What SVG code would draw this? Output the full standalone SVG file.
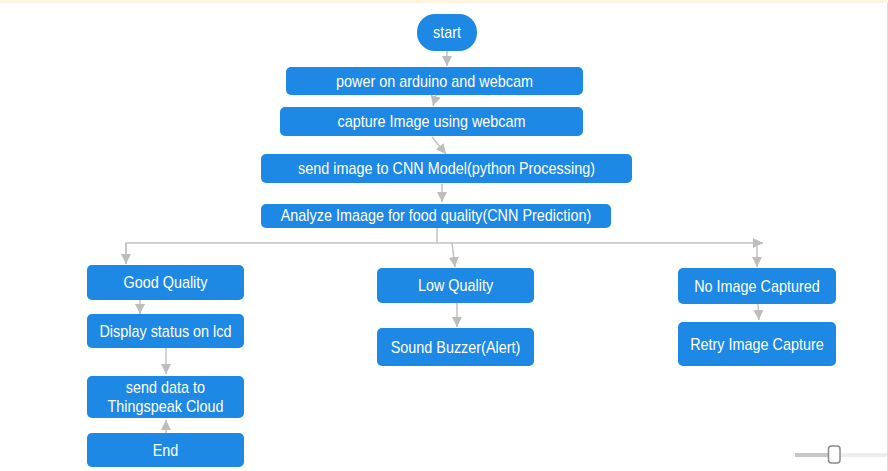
<svg xmlns="http://www.w3.org/2000/svg" width="888" height="471" viewBox="0 0 888 471">
<style>
.n rect{fill:#1e88e5}
.n text{font-family:"Liberation Sans",Arial,sans-serif;font-size:16px;fill:#ffffff;text-anchor:middle;transform-box:fill-box;transform-origin:center;transform:scaleX(0.9)}
.c line,.c polyline{stroke:#c2c2c2;stroke-width:1.5;fill:none}
</style>
<defs>
<marker id="arr" viewBox="0 0 10 10" refX="10" refY="5" markerWidth="10" markerHeight="10" markerUnits="userSpaceOnUse" orient="auto">
<path d="M0,0 L10,5 L0,10 z" fill="#bdbdbd"/>
</marker>
</defs>
<rect x="0" y="0" width="888" height="471" fill="#ffffff"/>
<rect x="0" y="0" width="888" height="3" fill="#fdf5df"/>
<line x1="887.5" y1="3" x2="887.5" y2="471" stroke="#dcdcdc" stroke-width="1"/>

<g class="c" id="connectors">
<line x1="447" y1="51" x2="447" y2="66" marker-end="url(#arr)"/>
<line x1="436" y1="95" x2="433" y2="106" marker-end="url(#arr)"/>
<line x1="432" y1="137" x2="446" y2="154" marker-end="url(#arr)"/>
<line x1="442" y1="184" x2="442" y2="202" marker-end="url(#arr)"/>
<polyline points="437,228 437,243"/>
<polyline points="126,264 126,243 763,243" marker-end="url(#arr)"/>
<line x1="126" y1="243" x2="126" y2="264" marker-end="url(#arr)"/>
<line x1="452" y1="243" x2="455" y2="267" marker-end="url(#arr)"/>
<line x1="757" y1="244" x2="757" y2="267" marker-end="url(#arr)"/>
<line x1="140" y1="300" x2="140" y2="314" marker-end="url(#arr)"/>
<line x1="166" y1="348" x2="166" y2="374" marker-end="url(#arr)"/>
<line x1="166" y1="433" x2="166" y2="420" marker-end="url(#arr)"/>
<line x1="457" y1="303" x2="457" y2="327" marker-end="url(#arr)"/>
<line x1="758" y1="304" x2="759" y2="320" marker-end="url(#arr)"/>
</g>

<g class="n" id="start"><rect x="417" y="14" width="60" height="37" rx="18"/><text x="447" y="38">start</text></g>
<g class="n" id="power"><rect x="286" y="67" width="297" height="28" rx="5"/><text x="434.5" y="87">power on arduino and webcam</text></g>
<g class="n" id="capture"><rect x="280" y="107" width="303" height="29" rx="5"/><text x="431.5" y="127">capture Image using webcam</text></g>
<g class="n" id="send"><rect x="261" y="154" width="371" height="29" rx="5"/><text x="446.5" y="174">send image to CNN Model(python Processing)</text></g>
<g class="n" id="analyze"><rect x="261" y="204" width="350" height="24" rx="5"/><text x="436" y="221.5">Analyze Imaage for food quality(CNN Prediction)</text></g>
<g class="n" id="good"><rect x="87" y="265" width="157" height="35" rx="5"/><text x="165.5" y="288">Good Quality</text></g>
<g class="n" id="display"><rect x="87" y="314" width="157" height="34" rx="5"/><text x="165.5" y="337">Display status on lcd</text></g>
<g class="n" id="cloud"><rect x="87" y="376" width="157" height="42" rx="5"/><text x="165.5" y="393">send data to</text><text x="165.5" y="412">Thingspeak Cloud</text></g>
<g class="n" id="end"><rect x="87" y="433" width="157" height="34" rx="5"/><text x="165.5" y="456">End</text></g>
<g class="n" id="low"><rect x="377" y="268" width="157" height="35" rx="5"/><text x="455.5" y="291">Low Quality</text></g>
<g class="n" id="buzzer"><rect x="377" y="328" width="157" height="38" rx="5"/><text x="455.5" y="353">Sound Buzzer(Alert)</text></g>
<g class="n" id="noimage"><rect x="678" y="268" width="158" height="36" rx="5"/><text x="757" y="292">No Image Captured</text></g>
<g class="n" id="retry"><rect x="678" y="322" width="158" height="44" rx="5"/><text x="757" y="350">Retry Image Capture</text></g>

<line x1="795" y1="455" x2="829" y2="455" stroke="#c6c6c6" stroke-width="4"/>
<line x1="840" y1="455" x2="887" y2="455" stroke="#ededed" stroke-width="4"/>
<rect x="828.5" y="446" width="11.5" height="17" rx="3" fill="#ffffff" stroke="#8a8a8a" stroke-width="1.5"/>
</svg>
